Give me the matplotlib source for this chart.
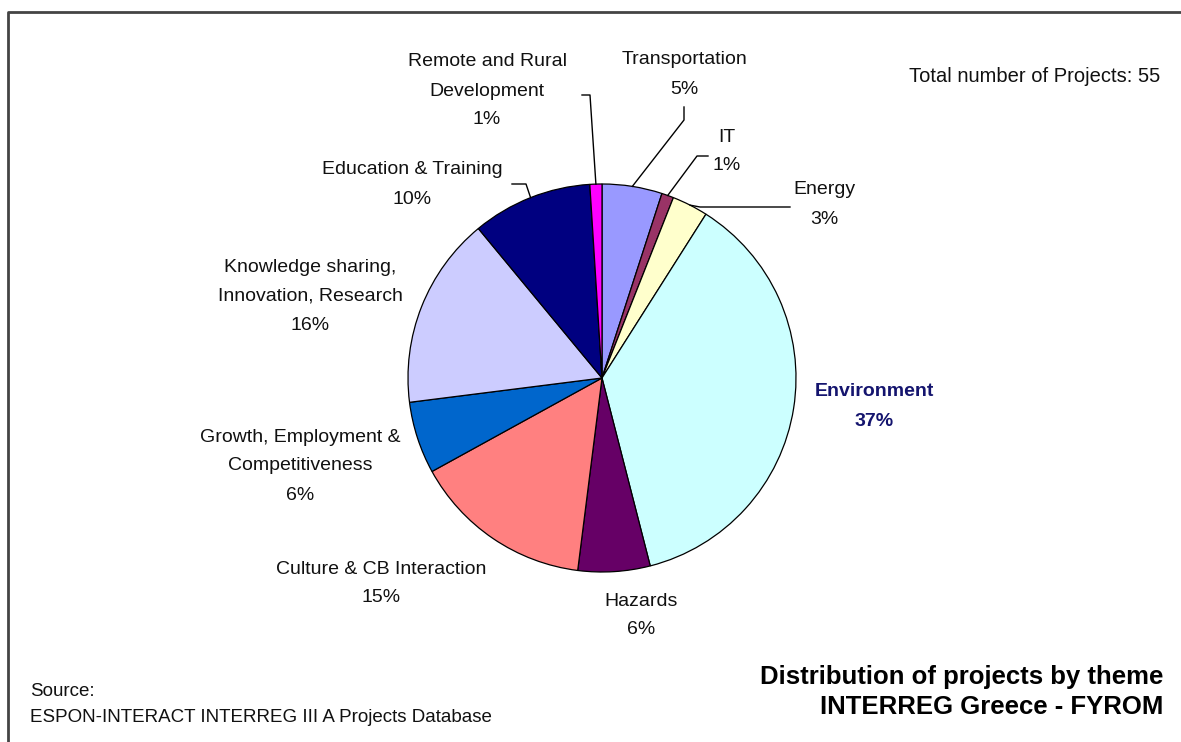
import matplotlib
matplotlib.use('Agg')
import matplotlib.pyplot as plt
import numpy as np

plt.rcParams['font.family'] = ['Liberation Sans', 'DejaVu Sans']

# slices, clockwise from 12 o'clock
themes = ['Transportation', 'IT', 'Energy', 'Environment', 'Hazards',
          'Culture & CB Interaction', 'Growth, Employment &\nCompetitiveness',
          'Knowledge sharing,\nInnovation, Research', 'Education & Training',
          'Remote and Rural\nDevelopment']
shares = [5, 1, 3, 37, 6, 15, 6, 16, 10, 1]
colors = ['#9999FF', '#993366', '#FFFFCC', '#CCFFFF', '#660066',
          '#FF8080', '#0066CC', '#CCCCFF', '#000080', '#FF00FF']

# label centres in pixel coords (x, y of first line)
label_pos = [(684, 60), (727, 137), (824, 190), (874, 392), (641, 601),
             (381, 569), (300, 437), (310, 267), (412, 170), (487, 62)]
# leader elbows, from label side towards the wedge
leaders = {0: [(684, 107), (684, 120)],
           1: [(708, 156), (697, 156)],
           2: [(790, 207), (700, 207)],
           8: [(512, 184), (526, 184)],
           9: [(582, 95), (590, 95)]}

W, H = 1181, 742
cx, cy, r = 602, 378, 194

fig = plt.figure(figsize=(W / 100, H / 100), dpi=100)
ax = fig.add_axes([0, 0, 1, 1])

# inverted y: startangle -90 + counterclock=True runs clockwise on screen from the top
wedges, _ = ax.pie(shares, colors=colors, startangle=-90, counterclock=True,
                   center=(cx, cy), radius=r, frame=True,
                   wedgeprops=dict(edgecolor='black', linewidth=0.9))
ax.set_xlim(0, W)
ax.set_ylim(H, 0)
ax.set_aspect('equal')
ax.axis('off')

fs = 14
lh = 29
for i, (name, pct) in enumerate(zip(themes, shares)):
    x, y = label_pos[i]
    lines = (f'{name}\n{pct}%').split('\n')
    bold = i == 3
    for k, ln in enumerate(lines):
        ax.text(x, y + k * lh, ln, ha='center', va='center', fontsize=fs,
                fontweight='bold' if bold else 'normal',
                color='#14146e' if bold else '#111111')
    if i in leaders:
        w = wedges[i]
        mid = np.deg2rad((w.theta1 + w.theta2) / 2)
        edge_pt = (cx + r * np.cos(mid), cy + r * np.sin(mid))
        pts = leaders[i] + [edge_pt]
        ax.plot([p[0] for p in pts], [p[1] for p in pts], color='black', lw=1)

ax.text(1160, 77, 'Total number of Projects: 55', ha='right', va='center',
        fontsize=14.5, color='#111111')
ax.text(1163, 677, 'Distribution of projects by theme', ha='right', va='center',
        fontsize=18.5, fontweight='bold', color='black')
ax.text(1163, 707, 'INTERREG Greece - FYROM', ha='right', va='center',
        fontsize=18.5, fontweight='bold', color='black')
ax.text(30, 691, 'Source:', ha='left', va='center', fontsize=13.5, color='#111111')
ax.text(30, 717, 'ESPON-INTERACT INTERREG III A Projects Database', ha='left',
        va='center', fontsize=13.5, color='#111111')

# chart frame (left and top edges visible)
ax.plot([8, 8, W + 5], [H + 5, 12, 12], color='#444444', lw=2, clip_on=False)

fig.savefig('out.png', dpi=100)
